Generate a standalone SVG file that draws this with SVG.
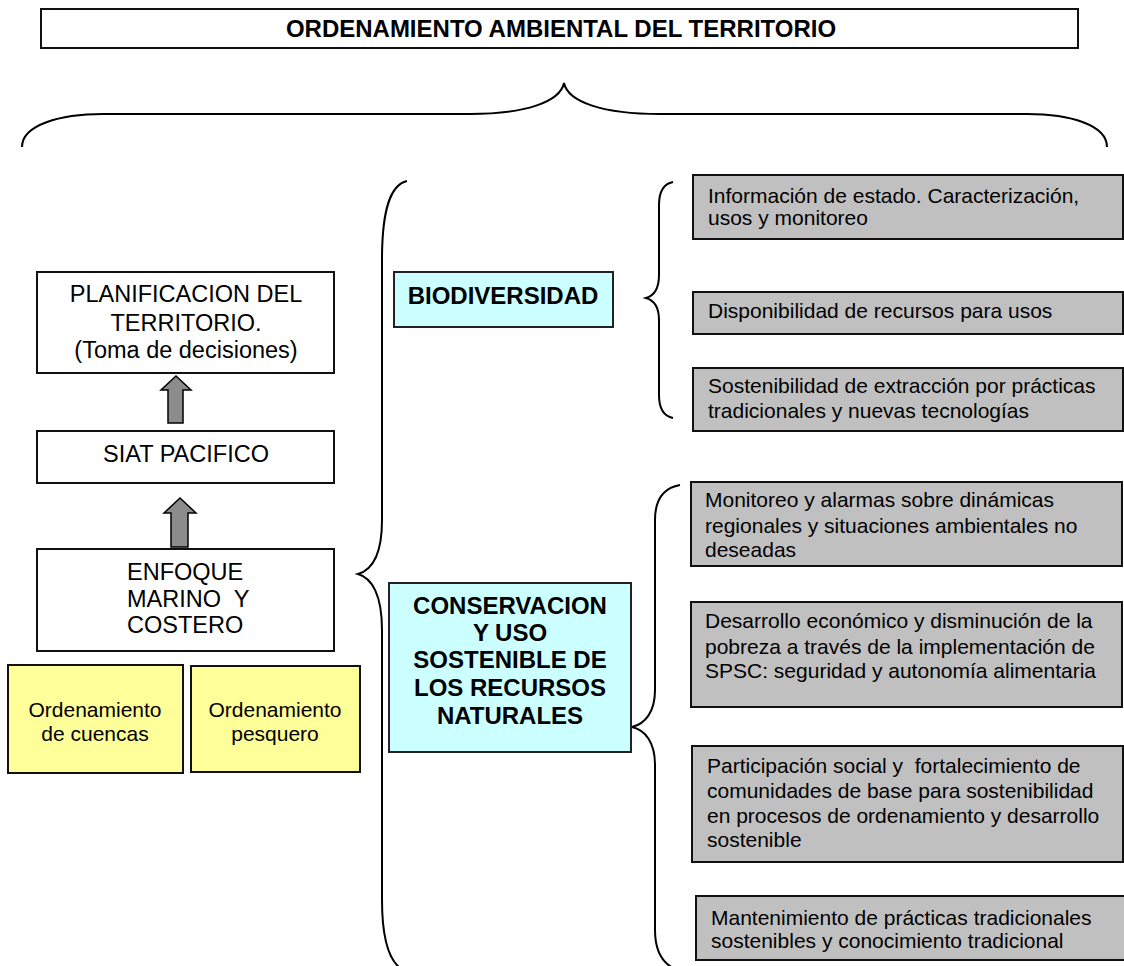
<svg xmlns="http://www.w3.org/2000/svg" width="1124" height="966" viewBox="0 0 1124 966">
<style>
text{font-family:"Liberation Sans",Arial,sans-serif;fill:#000}
.box{fill:#fff;stroke:#111;stroke-width:2}
.gray{fill:#C0C0C0;stroke:#111;stroke-width:2}
.cyan{fill:#CCFFFF;stroke:#222;stroke-width:2}
.yel{fill:#FFFF99;stroke:#111;stroke-width:2}
.brace{fill:none;stroke:#000;stroke-width:2}
.arrow{fill:#8C8C8C;stroke:#000;stroke-width:1.5}
.big{font-size:23.5px}
.t{font-size:21px}
.b{font-size:24px;font-weight:bold}
</style>
<g id="title">
<rect class="box" x="41" y="9" width="1037" height="39"/>
<text class="b" x="561" y="37" text-anchor="middle">ORDENAMIENTO AMBIENTAL DEL TERRITORIO</text>
</g>
<g id="connectors">
<path class="brace" d="M22,147 C22,125 60,114 103,114 L470,114 C525,114 560,102 564,83 C568,102 603,114 660,114 L1027,114 C1070,114 1107,125 1107,147"/>
<path class="brace" d="M407,181 C390,185 382,210 382,260 L382,520 C382,555 372,570 358,574 C372,578 382,595 382,630 L382,900 C382,940 390,960 400,968"/>
<path class="brace" d="M673,182 C663,184 659,192 659,205 L659,275 C659,290 653,296 646,298 C653,300 659,306 659,320 L659,395 C659,408 663,416 673,418"/>
<path class="brace" d="M680,485 C663,488 655,500 655,520 L655,690 C655,712 645,724 632,727 C645,730 655,742 655,765 L655,930 C655,950 662,962 673,968"/>
<polygon class="arrow" points="176,376 191,390 183,390 183,423 168,423 168,390 161,390"/>
<polygon class="arrow" points="180,498 196,513 188,513 188,547 171,547 171,513 164,513"/>
</g>
<g id="planificacion">
<rect class="box" x="37" y="272" width="297" height="101"/>
<text class="big" x="186" y="302" text-anchor="middle">PLANIFICACION DEL</text>
<text class="big" x="186" y="331" text-anchor="middle">TERRITORIO.</text>
<text class="big" x="186" y="358" text-anchor="middle">(Toma de decisiones)</text>
</g>
<g id="siat">
<rect class="box" x="37" y="431" width="297" height="52"/>
<text class="big" x="186" y="462" text-anchor="middle">SIAT PACIFICO</text>
</g>
<g id="enfoque">
<rect class="box" x="37" y="549" width="297" height="102"/>
<text class="big" x="127" y="580" xml:space="preserve">ENFOQUE</text>
<text class="big" x="127" y="607" xml:space="preserve">MARINO  Y</text>
<text class="big" x="127" y="633" xml:space="preserve">COSTERO</text>
</g>
<g id="cuencas">
<rect class="yel" x="8" y="665" width="175" height="108"/>
<text class="t" x="95" y="717" text-anchor="middle">Ordenamiento</text>
<text class="t" x="95" y="741" text-anchor="middle">de cuencas</text>
</g>
<g id="pesquero">
<rect class="yel" x="191" y="666" width="169" height="106"/>
<text class="t" x="275" y="717" text-anchor="middle">Ordenamiento</text>
<text class="t" x="275" y="741" text-anchor="middle">pesquero</text>
</g>
<g id="biodiversidad">
<rect class="cyan" x="394" y="272" width="219" height="55"/>
<text class="b" x="503" y="304" text-anchor="middle">BIODIVERSIDAD</text>
</g>
<g id="conservacion">
<rect class="cyan" x="389" y="583" width="242" height="169"/>
<text class="b" x="510" y="614" text-anchor="middle">CONSERVACION</text>
<text class="b" x="510" y="641" text-anchor="middle">Y USO</text>
<text class="b" x="510" y="668" text-anchor="middle">SOSTENIBLE DE</text>
<text class="b" x="510" y="696" text-anchor="middle">LOS RECURSOS</text>
<text class="b" x="510" y="724" text-anchor="middle">NATURALES</text>
</g>
<g id="b1">
<rect class="gray" x="693" y="175" width="430" height="64"/>
<text class="t" x="708" y="203">Información de estado. Caracterización,</text>
<text class="t" x="708" y="225">usos y monitoreo</text>
</g>
<g id="b2">
<rect class="gray" x="693" y="292" width="430" height="42"/>
<text class="t" x="708" y="318">Disponibilidad de recursos para usos</text>
</g>
<g id="b3">
<rect class="gray" x="693" y="368" width="430" height="63"/>
<text class="t" x="708" y="393">Sostenibilidad de extracción por prácticas</text>
<text class="t" x="708" y="418">tradicionales y nuevas tecnologías</text>
</g>
<g id="c1">
<rect class="gray" x="691" y="482" width="431" height="84"/>
<text class="t" x="705" y="507">Monitoreo y alarmas sobre dinámicas</text>
<text class="t" x="705" y="533">regionales y situaciones ambientales no</text>
<text class="t" x="705" y="557">deseadas</text>
</g>
<g id="c2">
<rect class="gray" x="691" y="602" width="431" height="105"/>
<text class="t" x="705" y="628">Desarrollo económico y disminución de la</text>
<text class="t" x="705" y="654">pobreza a través de la implementación de</text>
<text class="t" x="705" y="678">SPSC: seguridad y autonomía alimentaria</text>
</g>
<g id="c3">
<rect class="gray" x="692" y="746" width="431" height="116"/>
<text class="t" x="707" y="773" xml:space="preserve">Participación social y  fortalecimiento de</text>
<text class="t" x="707" y="798">comunidades de base para sostenibilidad</text>
<text class="t" x="707" y="823">en procesos de ordenamiento y desarrollo</text>
<text class="t" x="707" y="847">sostenible</text>
</g>
<g id="c4">
<rect class="gray" x="696" y="896" width="430" height="64"/>
<text class="t" x="711" y="925">Mantenimiento de prácticas tradicionales</text>
<text class="t" x="711" y="948">sostenibles y conocimiento tradicional</text>
</g>
</svg>
